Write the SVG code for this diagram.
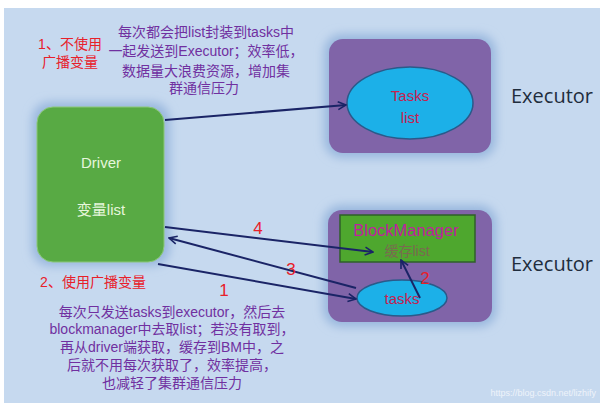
<svg xmlns="http://www.w3.org/2000/svg" width="604" height="407" viewBox="0 0 604 407">
<defs>
<style>
.cn{font-family:"Liberation Sans","Noto Sans CJK SC",sans-serif;}
.red{fill:#e8202a;font-size:14px;}
.pur{fill:#7030a0;font-size:14px;text-anchor:middle;}
.exe{fill:#1f2d3d;font-size:20px;font-family:"Open Sans","Liberation Sans",sans-serif;}
.num{fill:#e8202a;font-size:17px;font-family:"Liberation Sans",sans-serif;text-anchor:middle;}
.conn{stroke:#1a2466;stroke-width:2;fill:none;marker-end:url(#ah);}
.ell{fill:#1cb0e8;stroke:#2a5a8a;stroke-width:1.5;}
.box{fill:#8064a8;}
</style>
<marker id="ah" viewBox="0 0 10 10" refX="9" refY="5" markerWidth="5" markerHeight="5" orient="auto" markerUnits="strokeWidth">
<path d="M1,1 L9,5 L1,9" fill="none" stroke="#1a2466" stroke-width="1.6"/>
</marker>
<filter id="glow" x="-20%" y="-20%" width="140%" height="140%">
<feGaussianBlur stdDeviation="5"/>
</filter>
</defs>
<rect x="0" y="0" width="604" height="407" fill="#ffffff"/>
<rect x="4" y="8" width="596" height="395" fill="#c6d9ef"/>

<g id="label1">
<text class="cn red" x="70" y="49" text-anchor="middle">1、不使用</text>
<text class="cn red" x="70" y="67" text-anchor="middle">广播变量</text>
</g>
<g id="desc1">
<text class="cn pur" x="206" y="37" font-size="14.5">每次都会把list封装到tasks中</text>
<text class="cn pur" x="206" y="56" font-size="14.5">一起发送到Executor；效率低，</text>
<text class="cn pur" x="206" y="76" font-size="14.5">数据量大浪费资源，增加集</text>
<text class="cn pur" x="204" y="93" font-size="14.5">群通信压力</text>
</g>

<g id="driver">
<rect x="32" y="102" width="138" height="164" rx="18" fill="#9ab8de" filter="url(#glow)"/>
<rect x="37" y="107" width="127" height="155" rx="16" fill="#58aa44" stroke="#8cc878" stroke-width="1"/>
<text class="cn" x="101" y="168" text-anchor="middle" font-size="15" fill="#e6f6dc">Driver</text>
<text class="cn" x="101" y="215" text-anchor="middle" font-size="15" fill="#e6f6dc">变量list</text>
</g>

<g id="executor1">
<rect x="324" y="34" width="172" height="124" rx="18" fill="#9ab8de" filter="url(#glow)"/>
<rect x="329" y="39" width="162" height="114" rx="14" class="box"/>
<ellipse cx="410" cy="103" rx="63" ry="36" class="ell"/>
<text class="cn" x="410" y="101" text-anchor="middle" font-size="15" fill="#c8204f">Tasks</text>
<text class="cn" x="410" y="123" text-anchor="middle" font-size="15" fill="#c8204f">list</text>
</g>
<g id="executorLabel1">
<text class="exe" x="552" y="103" text-anchor="middle">Executor</text>
</g>

<g id="executor2">
<rect x="323" y="205" width="174" height="122" rx="18" fill="#9ab8de" filter="url(#glow)"/>
<rect x="328" y="210" width="164" height="112" rx="14" class="box"/>
<g id="blockmanager">
<rect x="340" y="215" width="135" height="47" fill="#4ea72e" stroke="#2f5f2a" stroke-width="1.5"/>
<text class="cn" x="406" y="236" text-anchor="middle" font-size="16.5" fill="#c020a0">BlockManager</text>
<text class="cn" x="407" y="256" text-anchor="middle" font-size="14" fill="#7a6a50">缓存list</text>
</g>
<g id="tasks">
<ellipse cx="402" cy="298" rx="45" ry="18" class="ell"/>
<text class="cn" x="402" y="304" text-anchor="middle" font-size="15" fill="#c8204f">tasks</text>
</g>
</g>
<g id="executorLabel2">
<text class="exe" x="552" y="271" text-anchor="middle">Executor</text>
</g>

<g id="connectors">
<path class="conn" d="M165,120 L346,105"/>
<path class="conn" d="M165,227 L373,252"/>
<path class="conn" d="M356,288 L169,238"/>
<path class="conn" d="M158,264 L356,299"/>
<path class="conn" d="M420,298 L401,260"/>
<text class="num" x="258" y="234">4</text>
<text class="num" x="291" y="275">3</text>
<text class="num" x="224" y="296">1</text>
<text class="num" x="425" y="284">2</text>
</g>

<g id="label2">
<text class="cn red" x="93" y="287" text-anchor="middle">2、使用广播变量</text>
</g>
<g id="desc2">
<text class="cn pur" x="172" y="317">每次只发送tasks到executor，然后去</text>
<text class="cn pur" x="172" y="334">blockmanager中去取list；若没有取到，</text>
<text class="cn pur" x="172" y="352">再从driver端获取，缓存到BM中，之</text>
<text class="cn pur" x="172" y="370">后就不用每次获取了，效率提高，</text>
<text class="cn pur" x="172" y="388">也减轻了集群通信压力</text>
</g>
<g id="watermark">
<text class="cn" x="596" y="396" text-anchor="end" font-size="9" fill="#eef3fa">https://blog.csdn.net/lizhify</text>
</g>
</svg>
